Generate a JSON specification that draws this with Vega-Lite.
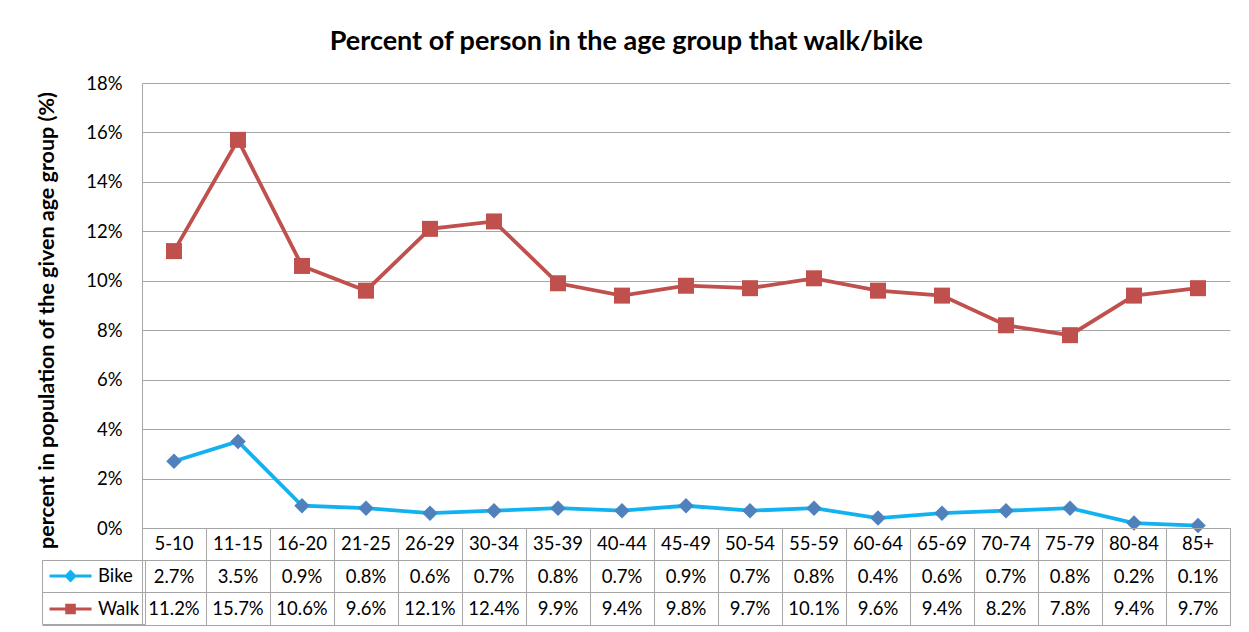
{
  "$schema": "https://vega.github.io/schema/vega-lite/v6.json",
  "padding": {"left": 35, "top": 28, "right": 19, "bottom": 7},
  "background": "white",
  "bounds": "flush",
  "spacing": 0,
  "config": {"font": "Lato", "view": {"stroke": null}, "concat": {"spacing": 0}},
  "title": {"text": "Percent of person in the age group that walk/bike", "fontSize": 27, "fontWeight": "bold", "color": "#000000", "anchor": "middle", "offset": 18, "dx": -7},
  "data": {"values": [
    {"age": "5-10", "Bike": 0.027, "Walk": 0.112},
    {"age": "11-15", "Bike": 0.035, "Walk": 0.157},
    {"age": "16-20", "Bike": 0.009, "Walk": 0.106},
    {"age": "21-25", "Bike": 0.008, "Walk": 0.096},
    {"age": "26-29", "Bike": 0.006, "Walk": 0.121},
    {"age": "30-34", "Bike": 0.007, "Walk": 0.124},
    {"age": "35-39", "Bike": 0.008, "Walk": 0.099},
    {"age": "40-44", "Bike": 0.007, "Walk": 0.094},
    {"age": "45-49", "Bike": 0.009, "Walk": 0.098},
    {"age": "50-54", "Bike": 0.007, "Walk": 0.097},
    {"age": "55-59", "Bike": 0.008, "Walk": 0.101},
    {"age": "60-64", "Bike": 0.004, "Walk": 0.096},
    {"age": "65-69", "Bike": 0.006, "Walk": 0.094},
    {"age": "70-74", "Bike": 0.007, "Walk": 0.082},
    {"age": "75-79", "Bike": 0.008, "Walk": 0.078},
    {"age": "80-84", "Bike": 0.002, "Walk": 0.094},
    {"age": "85+", "Bike": 0.001, "Walk": 0.097}
  ]},
  "vconcat": [
    {
      "width": 1088,
      "height": 445,
      "transform": [{"fold": ["Bike", "Walk"], "as": ["series", "value"]}],
      "encoding": {
        "x": {"field": "age", "type": "nominal", "sort": null, "scale": {"type": "band", "paddingInner": 0, "paddingOuter": 0}, "axis": null},
        "y": {"field": "value", "type": "quantitative", "scale": {"domain": [0, 0.18], "nice": false},
          "axis": {"values": [0, 0.02, 0.04, 0.06, 0.08, 0.1, 0.12, 0.14, 0.16, 0.18], "format": ".0%", "labelFontSize": 18.5, "labelColor": "#000000", "labelPadding": 20, "ticks": false, "domain": true, "domainColor": "#a6a6a6", "gridColor": "#a6a6a6", "grid": true,
            "title": "percent in population of the given age group (%)", "titleFontSize": 21.5, "titleFontWeight": "bold", "titleColor": "#000000", "titleX": -84, "titleY": 237}}
      },
      "layer": [
        {
          "mark": {"type": "line", "strokeWidth": 3.8},
          "encoding": {
            "color": {"field": "series", "type": "nominal", "scale": {"domain": ["Bike", "Walk"], "range": ["#12B2F0", "#C0504D"]},
              "legend": {"orient": "none", "legendX": -100, "legendY": 477, "title": null, "padding": 5, "strokeColor": "#a6a6a6", "symbolSize": 361, "labelOffset": 29, "labelFontSize": 18.5, "labelColor": "#000000", "rowPadding": 11,
                "encode": {"symbols": {"update": {
                  "shape": {"signal": "datum.value === 'Bike' ? 'M-0.89,0L3.53,0M0.87,0L1.32,-0.45L1.77,0L1.32,0.45Z' : 'M-0.89,0L3.53,0M0.92,-0.4L1.72,-0.4L1.72,0.4L0.92,0.4Z'"},
                  "fill": {"signal": "datum.value === 'Bike' ? '#4F81BD' : '#C0504D'"},
                  "stroke": {"signal": "datum.value === 'Bike' ? '#12B2F0' : '#C0504D'"},
                  "strokeWidth": {"value": 3},
                  "opacity": {"value": 1}
                }}}}}
          }
        },
        {
          "transform": [{"filter": {"field": "series", "equal": "Bike"}}],
          "mark": {"type": "point", "shape": "diamond", "filled": true, "size": 240, "color": "#4F81BD", "opacity": 1}
        },
        {
          "transform": [{"filter": {"field": "series", "equal": "Walk"}}],
          "mark": {"type": "point", "shape": "square", "filled": true, "size": 256, "color": "#C0504D", "opacity": 1}
        }
      ]
    },
    {
      "width": 1088,
      "height": 97,
      "view": {"stroke": "#a6a6a6"},
      "encoding": {
        "x": {"field": "age", "type": "nominal", "sort": null, "scale": {"type": "band", "paddingInner": 0, "paddingOuter": 0},
          "axis": {"labels": false, "ticks": false, "domain": false, "grid": true, "gridColor": "#a6a6a6", "bandPosition": 0, "title": null}}
      },
      "layer": [
        {
          "mark": {"type": "text", "fontSize": 18.5, "color": "#000000", "baseline": "middle"},
          "encoding": {
            "y": {"datum": "hdr", "type": "nominal", "scale": {"type": "band", "domain": ["hdr", "Bike", "Walk"], "paddingInner": 0, "paddingOuter": 0},
              "axis": {"labels": false, "domain": false, "ticks": true, "tickSize": 100, "tickColor": "#a6a6a6", "bandPosition": 1, "grid": true, "gridColor": "#a6a6a6", "title": null}},
            "text": {"field": "age"}
          }
        },
        {
          "transform": [{"fold": ["Bike", "Walk"], "as": ["series", "value"]}],
          "mark": {"type": "text", "fontSize": 18.5, "color": "#000000", "baseline": "middle"},
          "encoding": {
            "y": {"field": "series", "type": "nominal"},
            "text": {"field": "value", "type": "quantitative", "format": ".1%"}
          }
        }
      ]
    }
  ]
}
